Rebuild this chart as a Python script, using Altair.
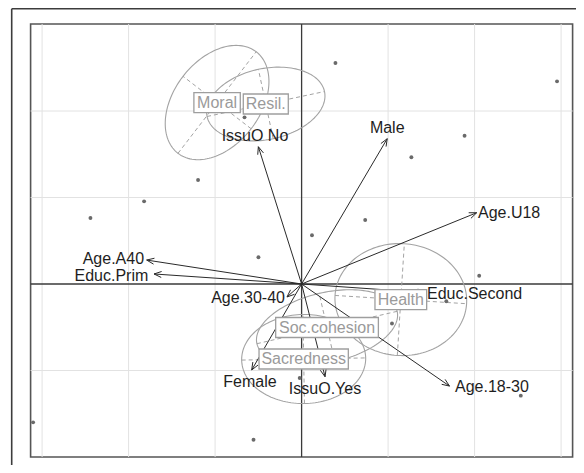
import numpy as np
import pandas as pd
import altair as alt

# ---------------- data ----------------
# individual row scores (grey dots)
pt_x = [0.391, 2.953, -0.66, 1.884, 1.269, -1.197, -1.821, -2.441, 0.735, 0.120,
        -0.499, 2.053, 1.673, 1.045, -0.022, 2.534, -3.104, -0.556]
pt_y = [2.555, 2.343, 1.927, 1.714, 1.465, 1.202, 0.956, 0.763, 0.740, 0.563,
        0.309, 0.096, -0.200, -0.457, -1.087, -1.291, -1.599, -1.800]

# arrows (variables)
arrow_names = ["IssuO No", "Male", "Age.U18", "Age.A40", "Educ.Prim", "Age.30-40",
               "Educ.Second", "Female", "IssuO.Yes", "Age.18-30"]
arrow_x = [-0.500, 0.990, 2.024, -1.791, -1.706, -0.169, 1.427, -0.577, 0.271, 1.710]
arrow_y = [1.587, 1.680, 0.824, 0.277, 0.116, -0.150, -0.099, -0.994, -1.072, -1.180]
label_x = [-0.539, 0.990, 2.039, -1.821, -1.772, -0.192, 1.450, -0.597, 0.271, 1.773]
label_y = [1.711, 1.800, 0.824, 0.290, 0.097, -0.162, -0.119, -1.129, -1.217, -1.191]
label_align = ["center", "center", "left", "right", "right", "right", "left",
               "center", "center", "left"]

# classes (ellipses)
class_names = ["Moral", "Resil.", "Health", "Soc.cohesion", "Sacredness"]
class_cx = [-0.977, -0.414, 1.147, 0.294, 0.024]
class_cy = [2.098, 2.081, -0.180, -0.503, -0.867]
ell_a = [0.741, 0.694, 0.762, 0.832, 0.717]
ell_b = [0.497, 0.410, 0.647, 0.405, 0.515]
ell_angle = [52.4, 12.0, -3.6, 13.0, 1.0]

grid_x = [-3, -2, -1, 1, 2, 3]
grid_y = [-1, 1, 2]

# ---------------- layout / style ----------------
PX = 86.5
X_DOM = [-3.133, 3.133]
Y_DOM = [-2.0, 3.006]
W, H = 542, 433
box_w = [46.4, 45.0, 51.7, 102.7, 89.3]   # label frame widths in px
box_h = 20.0
FONT = "Liberation Sans"

xs = alt.Scale(domain=X_DOM, nice=False, zero=False)
ys = alt.Scale(domain=Y_DOM, nice=False, zero=False)


def X(f):
    return alt.X(f, type="quantitative", scale=xs, axis=None)


def Y(f):
    return alt.Y(f, type="quantitative", scale=ys, axis=None)


# grid
gv = pd.DataFrame({"x": grid_x, "y1": Y_DOM[0], "y2": Y_DOM[1]})
gh = pd.DataFrame({"y": grid_y, "x1": X_DOM[0], "x2": X_DOM[1]})
grid_v = alt.Chart(gv).mark_rule(color="#e2e2e2", strokeWidth=1).encode(
    x=X("x"), y=Y("y1"), y2="y2")
grid_h = alt.Chart(gh).mark_rule(color="#e2e2e2", strokeWidth=1).encode(
    y=Y("y"), x=X("x1"), x2="x2")

ax_v = alt.Chart(pd.DataFrame({"x": [0], "y1": Y_DOM[0], "y2": Y_DOM[1]})).mark_rule(
    color="#3a3a3a", strokeWidth=1.3).encode(x=X("x"), y=Y("y1"), y2="y2")
ax_h = alt.Chart(pd.DataFrame({"y": [0], "x1": X_DOM[0], "x2": X_DOM[1]})).mark_rule(
    color="#3a3a3a", strokeWidth=1.3).encode(y=Y("y"), x=X("x1"), x2="x2")

# ellipses
rows = []
axes_rows = []
t = np.linspace(0, 2 * np.pi, 145)
for n, cx, cy, a, b, ang in zip(class_names, class_cx, class_cy, ell_a, ell_b, ell_angle):
    th = np.deg2rad(ang)
    ex = cx + a * np.cos(t) * np.cos(th) - b * np.sin(t) * np.sin(th)
    ey = cy + a * np.cos(t) * np.sin(th) + b * np.sin(t) * np.cos(th)
    for i, (u, v) in enumerate(zip(ex, ey)):
        rows.append({"cls": n, "i": i, "x": u, "y": v})
    axes_rows.append({"cls": n, "x1": cx - a * np.cos(th), "y1": cy - a * np.sin(th),
                      "x2": cx + a * np.cos(th), "y2": cy + a * np.sin(th)})
    axes_rows.append({"cls": n, "x1": cx + b * np.sin(th), "y1": cy - b * np.cos(th),
                      "x2": cx - b * np.sin(th), "y2": cy + b * np.cos(th)})
ell_df = pd.DataFrame(rows)
ax_df = pd.DataFrame(axes_rows)

ellipses = alt.Chart(ell_df).mark_line(color="#a3a3a3", strokeWidth=1.1).encode(
    x=X("x"), y=Y("y"), detail="cls:N", order="i:Q")
ell_axes = alt.Chart(ax_df).mark_rule(color="#a3a3a3", strokeWidth=1,
                                      strokeDash=[4, 3]).encode(
    x=X("x1"), y=Y("y1"), x2="x2", y2="y2")

# points
points = alt.Chart(pd.DataFrame({"x": pt_x, "y": pt_y})).mark_circle(
    size=15, color="#6a6a6a", opacity=1).encode(x=X("x"), y=Y("y"))

# arrows
adf = pd.DataFrame({"name": arrow_names, "x0": 0.0, "y0": 0.0,
                    "x": arrow_x, "y": arrow_y})
arrows = alt.Chart(adf).mark_rule(color="#2a2a2a", strokeWidth=1).encode(
    x=X("x0"), y=Y("y0"), x2="x", y2="y")

head_len = 8.0 / PX
head_ang = np.deg2rad(22)
hrows = []
for tx, ty in zip(arrow_x, arrow_y):
    L = np.hypot(tx, ty)
    dx, dy = tx / L, ty / L
    for s in (1, -1):
        c, sn = np.cos(s * head_ang), np.sin(s * head_ang)
        rx = dx * c - dy * sn
        ry = dx * sn + dy * c
        hrows.append({"x1": tx, "y1": ty, "x2": tx - head_len * rx, "y2": ty - head_len * ry})
heads = alt.Chart(pd.DataFrame(hrows)).mark_rule(color="#2a2a2a", strokeWidth=1).encode(
    x=X("x1"), y=Y("y1"), x2="x2", y2="y2")

ldf = pd.DataFrame({"name": arrow_names, "x": label_x, "y": label_y, "al": label_align})
arrow_labels = []
for al in ["left", "right", "center"]:
    arrow_labels.append(
        alt.Chart(ldf[ldf["al"] == al]).mark_text(
            align=al, baseline="middle", font=FONT, fontSize=16, color="#1e1e1e").encode(
            x=X("x"), y=Y("y"), text="name:N"))

# class labels with frames
cdf = pd.DataFrame({"name": class_names, "x": class_cx, "y": class_cy})
cdf["bx1"] = cdf["x"] - np.array(box_w) / 2 / PX
cdf["bx2"] = cdf["x"] + np.array(box_w) / 2 / PX
cdf["by1"] = cdf["y"] - box_h / 2 / PX
cdf["by2"] = cdf["y"] + box_h / 2 / PX
boxes = alt.Chart(cdf).mark_rect(fill="white", stroke="#9e9e9e", strokeWidth=1.3).encode(
    x=X("bx1"), x2="bx2", y=Y("by1"), y2="by2")
class_text = alt.Chart(cdf).mark_text(
    align="center", baseline="middle", font=FONT, fontSize=16, color="#9a9a9a").encode(
    x=X("x"), y=Y("y"), text="name:N")

# outer frame (left and top edges; the rest lies outside the picture)
one = pd.DataFrame({"k": [0]})
frame_l = alt.Chart(one).mark_rule(color="#3c3c3c", strokeWidth=1.6).encode(
    x=alt.value(-18.9), y=alt.value(-15.2), y2=alt.value(520))
frame_t = alt.Chart(one).mark_rule(color="#3c3c3c", strokeWidth=1.6).encode(
    y=alt.value(-15.2), x=alt.value(-18.9), x2=alt.value(620))

chart = alt.layer(
    grid_v, grid_h, ax_v, ax_h, ellipses, ell_axes, points, arrows, heads,
    *arrow_labels, boxes, class_text, frame_l, frame_t
).properties(
    width=W, height=H,
    autosize=alt.AutoSizeParams(type="none"),
    padding={"left": 22.6, "top": 16, "right": 3.4, "bottom": 8},
    background="white",
).configure_view(stroke="#555555", strokeWidth=1.6)

chart.save("out.html", embed_options={"renderer": "svg", "actions": False})
